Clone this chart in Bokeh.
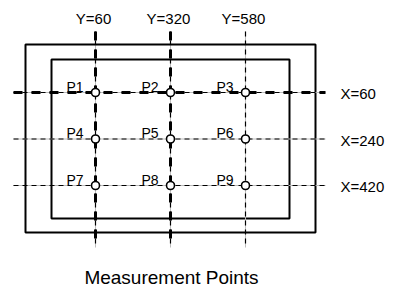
from bokeh.plotting import figure
from bokeh.models import Range1d, ColumnDataSource
from bokeh.core.properties import value
from bokeh.embed import file_html
from bokeh.resources import INLINE

# ---- data ----
y_lines = [60, 320, 580]          # vertical measurement lines (Y=...)
y_labels = ["Y=60", "Y=320", "Y=580"]
y_heavy = [True, True, False]
x_lines = [60, 240, 420]          # horizontal measurement lines (X=...)
x_labels = ["X=60", "X=240", "X=420"]
x_heavy = [True, False, False]
point_names = ["P1", "P2", "P3", "P4", "P5", "P6", "P7", "P8", "P9"]
point_y = [60, 320, 580, 60, 320, 580, 60, 320, 580]
point_x = [60, 60, 60, 240, 240, 240, 420, 420, 420]
title_text = "Measurement Points"

# ---- layout (screen pixel geometry -> data units) ----
W, H = 394, 288
OFF = 0
KX = (245 - 95) / (580 - 60)
XR0 = 60 - (95 - OFF) / KX
KY = (185 - 92) / (420 - 60)
YR0 = 60 - (92 - OFF) / KY

def dx(sx):
    return XR0 + (sx - OFF) / KX

def dy(sy):
    return YR0 + (sy - OFF) / KY

FONT = value("Liberation Sans")

p = figure(width=W, height=H, output_backend="svg", toolbar_location=None,
           x_range=Range1d(dx(OFF), dx(OFF + W)),
           y_range=Range1d(dy(OFF + H), dy(OFF)),
           min_border=0, outline_line_color=None)
p.axis.visible = False
p.grid.visible = False
p.background_fill_color = "white"

# plate outlines
p.quad(left=[dx(25), dx(51)], right=[dx(315), dx(289)],
       top=[dy(44), dy(59)], bottom=[dy(232), dy(218)],
       fill_color=None, line_color="black", line_width=2)

v_top, v_bot = dy(31), dy(247)
h_left, h_right = dx(13), dx(325)

# vertical lines
for yv, heavy in zip(y_lines, y_heavy):
    p.segment(x0=[yv], y0=[v_top], x1=[yv], y1=[v_bot], line_color="#bbbbbb", line_width=1)
    p.segment(x0=[yv], y0=[v_top], x1=[yv], y1=[v_bot], line_color="black", line_width=1.2,
              line_dash="5 4")
    if heavy:
        p.segment(x0=[yv], y0=[v_top], x1=[yv], y1=[v_bot], line_color="black", line_width=3,
                  line_dash="9 9")

# horizontal lines
for xv, heavy in zip(x_lines, x_heavy):
    p.segment(x0=[h_left], y0=[xv], x1=[h_right], y1=[xv], line_color="#bbbbbb", line_width=1)
    p.segment(x0=[h_left], y0=[xv], x1=[h_right], y1=[xv], line_color="black", line_width=1.2,
              line_dash="5 4")
    if heavy:
        p.segment(x0=[h_left], y0=[xv], x1=[h_right], y1=[xv], line_color="black", line_width=3,
                  line_dash="9 9")

# points
src = ColumnDataSource(dict(y=point_y, x=point_x, name=point_names))
p.scatter(x="y", y="x", source=src, marker="circle", size=8,
          fill_color="white", line_color="black", line_width=1.6)
p.text(x="y", y="x", text="name", source=src, text_font=FONT, text_font_size="14px",
       text_align="right", text_baseline="middle", x_offset=-12, y_offset=-6,
       text_color="black")

# line labels
p.text(x=y_lines, y=[dy(18)] * 3, text=y_labels, text_font=FONT, text_font_size="15px",
       text_align="center", text_baseline="middle", x_offset=-2, text_color="black")
p.text(x=[dx(340)] * 3, y=x_lines, text=x_labels, text_font=FONT, text_font_size="15px",
       text_align="left", text_baseline="middle", y_offset=1, text_color="black")

# caption
p.text(x=[dx(171)], y=[dy(277)], text=[title_text], text_font=FONT, text_font_size="19px",
       text_align="center", text_baseline="middle", text_color="black")

open("out.html", "w").write(file_html(p, INLINE))
